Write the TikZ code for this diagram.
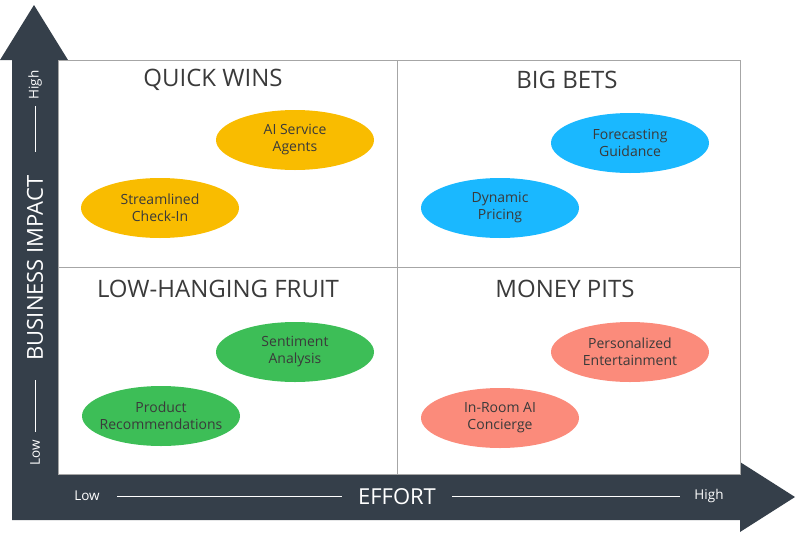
\documentclass[tikz,border=0pt]{standalone}
\usepackage{fontspec}
\setmainfont{Open Sans}
\usetikzlibrary{shapes.geometric,calc}
\begin{document}
\begin{tikzpicture}[x=1pt,y=-1pt,
  el/.style={ellipse,minimum width=158pt,minimum height=60pt,inner xsep=-14pt,inner ysep=0pt,align=center,font=\fontsize{14}{17}\selectfont,text=txt},
  ttl/.style={font=\fontsize{24}{27}\selectfont,text=txt},
  ax/.style={text=white,font=\fontsize{13.5}{15}\selectfont},
  axl/.style={white,line width=1pt}]
\definecolor{dark}{HTML}{353F4A}
\definecolor{txt}{HTML}{3A3A3A}
\definecolor{ylw}{HTML}{F9BC00}
\definecolor{blu}{HTML}{1AB8FF}
\definecolor{grn}{HTML}{3DBE57}
\definecolor{sal}{HTML}{FB8B7B}
\useasboundingbox (0,0) rectangle (796,536);
% axes
\fill[dark] (12,60) -- (0,60) -- (34,5) -- (68,60) -- (58,60) -- (58,474) -- (740,474) -- (740,462) -- (795,497) -- (740,532) -- (740,520) -- (12,520) -- cycle;
% grid
\draw[gray!70,line width=0.8pt] (58,60) rectangle (740,474);
\draw[gray!70,line width=0.8pt] (397,60) -- (397,474);
\draw[gray!70,line width=0.8pt] (58,267) -- (740,267);
% titles
\node[ttl] (qw) at (213,80) {QUICK WINS};
\node[ttl] (bb) at (567,80) {BIG BETS};
\node[ttl] (lh) at (218,289) {LOW-HANGING FRUIT};
\node[ttl] (mp) at (565,289) {MONEY PITS};
% ellipses
\node[el,fill=ylw] (a) at (295,140) {AI Service\\Agents};
\node[el,fill=ylw] (b) at (160,208) {Streamlined\\Check-In};
\node[el,fill=blu] (c) at (630,143) {Forecasting\\Guidance};
\node[el,fill=blu] (d) at (500,208) {Dynamic\\Pricing};
\node[el,fill=grn] (e) at (295,352) {Sentiment\\Analysis};
\node[el,fill=grn] (f) at (161,416) {Product\\Recommendations};
\node[el,fill=sal] (g) at (630,352) {Personalized\\Entertainment};
\node[el,fill=sal] (h) at (500,418) {In-Room AI\\Concierge};
% x axis labels
\node[ax] (xl) at (87,496) {Low};
\node[ax] (xh) at (709,496) {High};
\node[text=white,font=\fontsize{22}{25}\selectfont] (xe) at (397,497) {EFFORT};
\draw[axl] (117,496) -- (342,496);
\draw[axl] (452,496) -- (680,496);
% y axis labels
\node[ax,rotate=90] (yh) at (35,85) {High};
\node[ax,rotate=90] (yl) at (35,453) {Low};
\node[text=white,font=\fontsize{22}{25}\selectfont,rotate=90] (ye) at (35,268) {BUSINESS IMPACT};
\draw[axl] (35,106) -- (35,152);
\draw[axl] (35,380) -- (35,432);
\end{tikzpicture}
\end{document}
